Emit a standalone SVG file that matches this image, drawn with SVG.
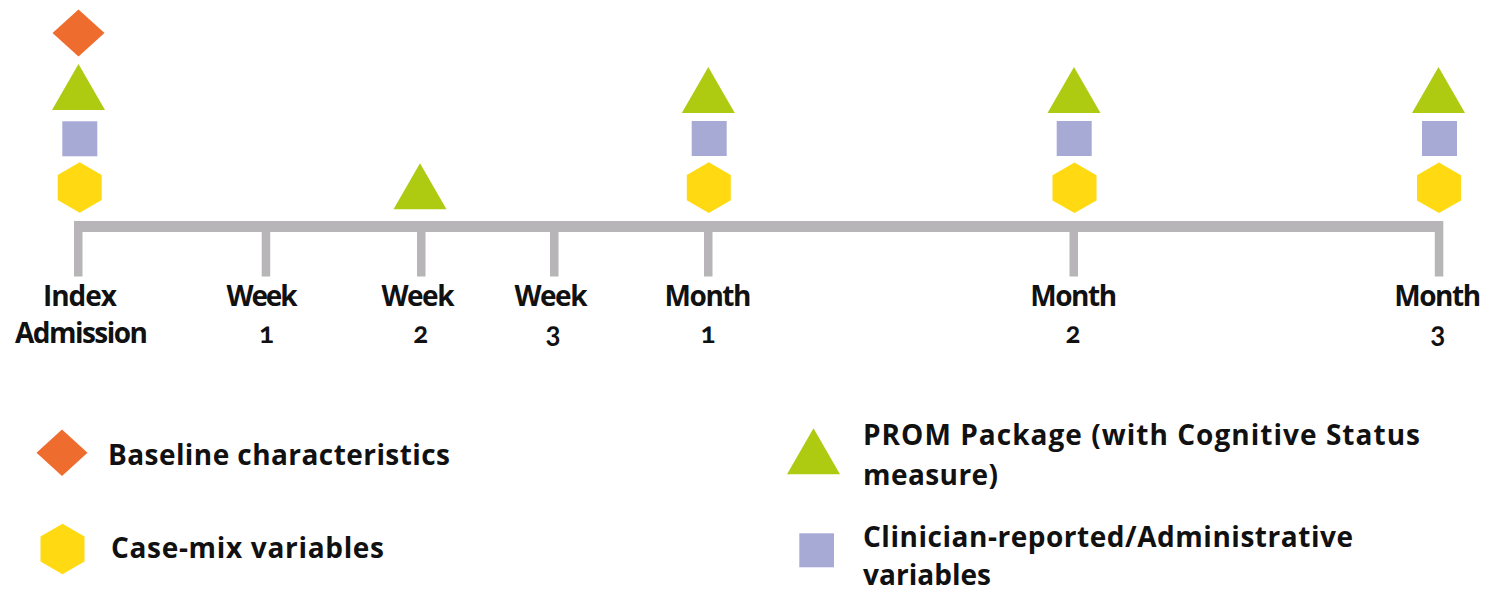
<svg xmlns="http://www.w3.org/2000/svg" xmlns:xlink="http://www.w3.org/1999/xlink" width="1501" height="591" viewBox="0 0 1501 591">
  <style>
    .lbl { font-family: "Open Sans", Lato, "Liberation Sans", sans-serif; font-weight: bold; font-size: 28px; fill: #111111; font-variant-ligatures: none; }
    .num { font-family: Lato, "Open Sans", "Liberation Sans", sans-serif; font-weight: bold; font-size: 28px; fill: #111111; font-variant-numeric: oldstyle-nums; text-anchor: middle; }
    .mid { text-anchor: middle; }
    .axis { fill: #B7B5B8; }
    .tri { fill: #AECB12; }
    .sq { fill: #A8AAD6; }
    .hex { fill: #FFDA12; }
    .dia { fill: #EE6C2D; }
  </style>
  <defs>
    <polygon id="triangle" class="tri" points="0,0 26.5,46 -26.5,46"/>
    <rect id="square" class="sq" x="-17.5" y="0" width="35" height="35"/>
    <polygon id="hexagon" class="hex" points="0,-25.3 22,-12.6 22,12.6 0,25.3 -22,12.6 -22,-12.6"/>
    <polygon id="diamond" class="dia" points="0,-23.5 26,0 0,23.5 -26,0"/>
  </defs>

  <rect width="1501" height="591" fill="#FFFFFF"/>

  <g id="connectors">
    <rect class="axis" x="74" y="221" width="1369" height="11"/>
    <rect class="axis" x="74" y="221" width="8.5" height="55.5"/>
    <rect class="axis" x="261.7" y="221" width="8.5" height="55.5"/>
    <rect class="axis" x="417" y="221" width="8.5" height="55.5"/>
    <rect class="axis" x="550" y="221" width="8.5" height="55.5"/>
    <rect class="axis" x="704" y="221" width="8.5" height="55.5"/>
    <rect class="axis" x="1069.5" y="221" width="8.5" height="55.5"/>
    <rect class="axis" x="1434.8" y="221" width="8.5" height="55.5"/>
  </g>

  <g id="index-admission">
    <use href="#diamond" x="78.5" y="33"/>
    <use href="#triangle" x="78.5" y="64"/>
    <use href="#square" x="79.8" y="121.3"/>
    <use href="#hexagon" x="79.7" y="187.5"/>
    <text class="lbl mid" x="80" y="306" textLength="74">Index</text>
    <text class="lbl mid" x="81.5" y="343" textLength="133">Admission</text>
  </g>

  <g id="week-1">
    <text class="lbl mid" x="262" y="306" textLength="71">Week</text>
    <text class="num" x="266.5" y="343">1</text>
  </g>

  <g id="week-2">
    <use href="#triangle" x="420" y="163.3"/>
    <text class="lbl mid" x="418" y="306" textLength="73">Week</text>
    <text class="num" x="420.7" y="343">2</text>
  </g>

  <g id="week-3">
    <text class="lbl mid" x="551" y="306" textLength="73">Week</text>
    <text class="num" x="553" y="343">3</text>
  </g>

  <g id="month-1">
    <use href="#triangle" x="708.3" y="67"/>
    <use href="#square" x="709.2" y="121"/>
    <use href="#hexagon" x="708.8" y="187.6"/>
    <text class="lbl mid" x="708" y="306" textLength="87">Month</text>
    <text class="num" x="708" y="343">1</text>
  </g>

  <g id="month-2">
    <use href="#triangle" x="1074" y="67"/>
    <use href="#square" x="1074.2" y="121"/>
    <use href="#hexagon" x="1074.5" y="187.8"/>
    <text class="lbl mid" x="1073.7" y="306" textLength="87">Month</text>
    <text class="num" x="1073" y="343">2</text>
  </g>

  <g id="month-3">
    <use href="#triangle" x="1438.5" y="67"/>
    <use href="#square" x="1439.5" y="121"/>
    <use href="#hexagon" x="1439" y="187.8"/>
    <text class="lbl mid" x="1437.7" y="306" textLength="87">Month</text>
    <text class="num" x="1437.7" y="343">3</text>
  </g>

  <g id="legend-baseline">
    <polygon class="dia" points="62,429.4 87.5,452.7 62,476 36.5,452.7"/>
    <text class="lbl" x="108" y="465" textLength="342">Baseline characteristics</text>
  </g>

  <g id="legend-casemix">
    <use href="#hexagon" x="62.5" y="549"/>
    <text class="lbl" x="111" y="558" textLength="273">Case-mix variables</text>
  </g>

  <g id="legend-prom">
    <use href="#triangle" x="813.5" y="428.3"/>
    <text class="lbl" x="863" y="445" textLength="557">PROM Package (with Cognitive Status</text>
    <text class="lbl" x="863" y="485" textLength="135">measure)</text>
  </g>

  <g id="legend-clinician">
    <rect class="sq" x="799.3" y="533.3" width="34.7" height="34"/>
    <text class="lbl" x="863" y="547" textLength="490">Clinician-reported/Administrative</text>
    <text class="lbl" x="863" y="585" textLength="128">variables</text>
  </g>
</svg>
